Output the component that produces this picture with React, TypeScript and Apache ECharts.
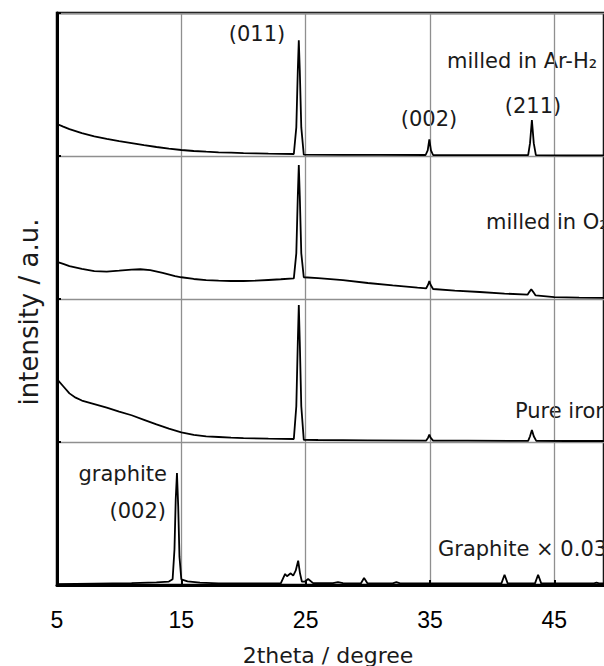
import React, { useEffect, useRef } from "react";
import * as echarts from "echarts";

// 2theta (degree) vs intensity (percent of one panel height)
const arH2Pattern: [number, number][] = [
  [5, 22.4], [5.5, 20.5], [6, 18.8], [7, 16], [8, 13.8], [9, 12], [10, 10.4], [11, 9], [12, 7.6],
  [13, 6.3], [14, 5.2], [15, 4.2], [16, 3.5], [17, 3], [18, 2.6], [19, 2.3], [20, 2], [21, 1.8],
  [22, 1.6], [23, 1.5], [24.05, 1.4], [24.25, 20], [24.37, 60], [24.45, 81], [24.53, 60],
  [24.65, 20], [24.85, 0.9], [28, 0.8], [31, 0.8], [34.65, 0.7], [34.82, 4], [34.95, 11.7],
  [35.08, 4], [35.25, 0.7], [38, 0.6], [42.9, 0.6], [43.05, 9], [43.2, 25.2], [43.35, 9],
  [43.52, 0.6], [46, 0.5], [50, 0.5],
];

const o2Pattern: [number, number][] = [
  [5, 26], [5.5, 24.5], [6, 23], [7, 21], [8, 19.5], [9, 19.2], [10, 19.8], [11, 20.6], [11.7, 20.8],
  [12.5, 20.2], [13.5, 18.3], [14.5, 16], [15, 15.2], [16, 14], [17, 13.2], [18, 12.8], [19, 12.6],
  [20, 12.6], [21, 12.8], [22, 13.3], [23, 13.8], [24.05, 14.4], [24.25, 32], [24.37, 72],
  [24.45, 93.7], [24.53, 72], [24.65, 32], [24.85, 15.2], [26, 14.6], [28, 13.2], [30, 11.2],
  [32, 9.5], [34, 8], [34.7, 7.5], [34.85, 10], [34.95, 12.6], [35.05, 10], [35.25, 7],
  [37, 5.9], [39, 4.9], [41, 3.8], [42.85, 3], [43.0, 5], [43.15, 6.8], [43.3, 5], [43.5, 2.5],
  [45, 1.3], [47, 0.9], [50, 0.7],
];

const pureIronPattern: [number, number][] = [
  [5, 44], [5.5, 39], [6, 34], [6.5, 31], [7, 29], [8, 26.5], [9, 24], [10, 21.3], [11, 18.7],
  [12, 15.5], [13, 12.3], [14, 9.3], [15, 6.8], [16, 5], [17, 4], [18, 3.5], [19, 3], [20, 2.7],
  [22, 2.3], [24.05, 2.1], [24.25, 25], [24.37, 70], [24.45, 95.8], [24.53, 70], [24.65, 25],
  [24.85, 1.5], [26, 1.4], [30, 1.2], [34.7, 1], [34.85, 3], [34.95, 5.1], [35.05, 3], [35.25, 1],
  [38, 0.9], [42.9, 0.8], [43.05, 4], [43.2, 8.4], [43.35, 4], [43.55, 0.8], [46, 0.7], [50, 0.7],
];

const graphitePattern: [number, number][] = [
  [5, 0.6], [8, 0.9], [11, 1.3], [13, 1.8], [14, 2.4], [14.3, 4], [14.45, 25], [14.55, 60],
  [14.65, 78.3], [14.75, 55], [14.85, 20], [15.0, 4], [15.5, 2.6], [16.5, 1.6], [18, 1.2],
  [21, 1.1], [23.0, 1.2], [23.35, 7.7], [23.5, 6.1], [23.8, 8.2], [24.0, 6.5], [24.2, 10],
  [24.4, 17], [24.55, 8], [24.7, 2.3], [24.95, 2.4], [25.2, 4.2], [25.6, 1.3], [27.2, 1.3],
  [27.6, 2], [28, 1.3], [29.45, 1.2], [29.7, 4.9], [29.97, 1.2], [32, 1.2], [32.3, 2],
  [32.6, 1.2], [40.75, 1.1], [41.0, 7.2], [41.25, 1.1], [43.45, 1.1], [43.7, 7.2], [43.95, 1.1],
  [48.2, 1.1], [48.4, 1.6], [48.6, 1.1], [50, 1.1],
];

const seriesNames = ["milled in Ar-H2", "milled in O2", "Pure iron", "Graphite x 0.03"];
const panelOffsets = [3, 2, 1, 0];
const xTickLabels = ["5", "15", "25", "35", "45"];

const X_MIN = 5;
const X_MAX = 49;

export default function App() {
  const ref = useRef<HTMLDivElement>(null);

  useEffect(() => {
    if (!ref.current) return;
    const chart = echarts.init(ref.current, null, { renderer: "svg" });
    const patterns = [arH2Pattern, o2Pattern, pureIronPattern, graphitePattern];
    const textColor = "#1a1a1a";
    const annFont = "DejaVu Sans";
    const annSize = 21;

    const ann = (text: string, x: number, y: number, align: string) => ({
      type: "text",
      x,
      y,
      style: {
        text,
        fill: textColor,
        font: `${annSize}px "${annFont}"`,
        align,
        verticalAlign: "middle",
      },
    });

    chart.setOption({
      animation: false,
      backgroundColor: "#ffffff",
      grid: {
        left: 57,
        top: 13,
        bottom: 81,
        right: 0,
        show: true,
        borderColor: "#000",
        borderWidth: 2.5,
      },
      xAxis: {
        type: "value",
        min: 0,
        max: X_MAX - X_MIN,
        interval: 10,
        axisLine: { show: true, onZero: false, lineStyle: { color: "#000", width: 3 } },
        axisTick: { show: true, inside: true, length: 5, lineStyle: { color: "#000", width: 2 } },
        splitLine: { show: true, lineStyle: { color: "#8f8f8f", width: 1.3 } },
        axisLabel: {
          showMaxLabel: false,
          margin: 23,
          color: "#000",
          fontFamily: "Liberation Sans",
          fontSize: 23,
          formatter: (v: number) => {
            const idx = Math.round(v / 10);
            return xTickLabels[idx] ?? "";
          },
        },
      },
      yAxis: {
        type: "value",
        min: 0,
        max: 4,
        interval: 1,
        axisLine: { show: true, lineStyle: { color: "#000", width: 3 } },
        axisTick: { show: true, inside: true, length: 4, lineStyle: { color: "#000", width: 2 } },
        splitLine: { show: true, lineStyle: { color: "#8f8f8f", width: 1.3 } },
        axisLabel: { show: false },
      },
      series: patterns.map((p, i) => ({
        name: seriesNames[i],
        type: "line",
        showSymbol: false,
        symbol: "none",
        clip: true,
        lineStyle: { color: "#000", width: 1.8 },
        data: p.map(([t, v]) => [t - X_MIN, panelOffsets[i] + v / 100]),
      })),
      graphic: [
        ann("(011)", 257, 34, "center"),
        ann("milled in Ar-H\u2082", 447, 60.5, "left"),
        ann("(002)", 429, 119, "center"),
        ann("(211)", 533, 105.5, "center"),
        ann("milled in O\u2082", 486, 222, "left"),
        ann("Pure iron", 515, 410.5, "left"),
        ann("graphite", 167, 474, "right"),
        ann("(002)", 166, 511, "right"),
        ann("Graphite \u00d7 0.03", 438, 548.7, "left"),
        {
          type: "text",
          x: 328,
          y: 655,
          style: {
            text: "2theta / degree",
            fill: textColor,
            font: `22px "${annFont}"`,
            align: "center",
            verticalAlign: "middle",
          },
        },
        {
          type: "text",
          x: 29,
          y: 312,
          rotation: Math.PI / 2,
          style: {
            text: "intensity / a.u.",
            fill: textColor,
            font: `26px "${annFont}"`,
            align: "center",
            verticalAlign: "middle",
          },
        },
      ],
    });

    return () => chart.dispose();
  }, []);

  return (
    <div
      ref={ref}
      style={{ position: "fixed", left: 0, top: 0, width: 604, height: 666, overflow: "hidden" }}
    />
  );
}
